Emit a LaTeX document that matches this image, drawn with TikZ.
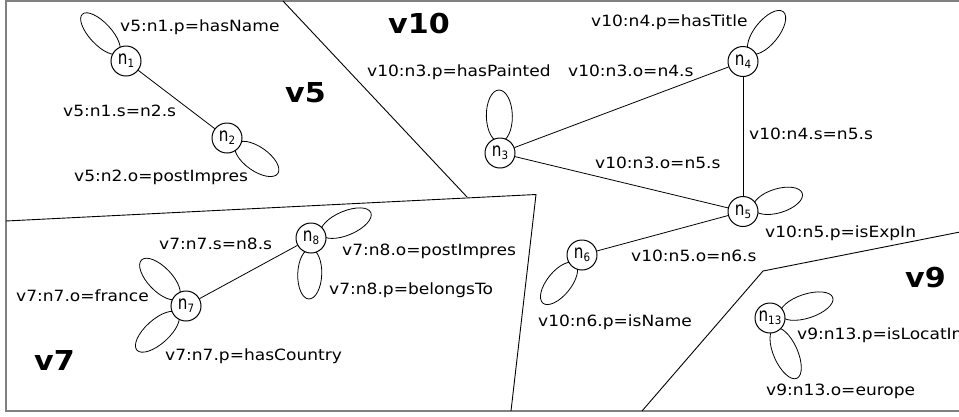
\documentclass[tikz,border=0pt]{standalone}
\usepackage{fontspec}
\setmainfont{DejaVu Sans}[FakeStretch=1.1]
\newfontfamily\nodefont{DejaVu Sans}[FakeStretch=0.8]
\newfontfamily\subfont{DejaVu Sans}[FakeStretch=0.9]
\pgfdeclarelayer{bg}
\pgfsetlayers{bg,main}
% [half width]{node}{angle}{length from node centre to tip}
\newcommand\petal[4][12]{%
  \draw[petalline] (#2.center) ++(#3:{(#4+11)/2}) ellipse [x radius={(#4-11)/2}, y radius=#1, rotate=#3];}
\newcommand\nd[1]{{\nodefont\fontsize{19}{20}\selectfont n}\raisebox{-3.3pt}{\subfont\fontsize{11.5}{12}\selectfont #1}}
\begin{document}
\begin{tikzpicture}[x=1pt,y=1pt,
  vnode/.style={circle, draw, fill=white, line width=1pt, minimum size=30pt, inner sep=1pt},
  edge/.style={line width=0.8pt},
  petalline/.style={line width=0.8pt},
  sep/.style={line width=0.9pt},
  frame/.style={line width=1.6pt, black!50},
  lbl/.style={anchor=base west, inner sep=0pt, font=\fontsize{15.5}{18}\selectfont},
  vlbl/.style={anchor=base west, inner sep=0pt, font=\fontsize{27.4}{30}\selectfont\bfseries}]
\useasboundingbox (0,0) rectangle (959,-416);
\clip (0,0) rectangle (959,-416);
% graph nodes
\node[vnode] (n1) at (126,-61) {\nd{1}};
\node[vnode] (n2) at (227,-138) {\nd{2}};
\node[vnode] (n3) at (500,-153) {\nd{3}};
\node[vnode] (n4) at (743,-61.5) {\nd{4}};
\node[vnode] (n5) at (743,-211.5) {\nd{5}};
\node[vnode] (n6) at (582,-255) {\nd{6}};
\node[vnode] (n7) at (186,-306) {\nd{7}};
\node[vnode] (n8) at (311,-238) {\nd{8}};
\node[vnode] (n13) at (770,-318) {\nd{13}};
\begin{pgfonlayer}{bg}
  % frame
  \coordinate (ftr) at (965,-1);
  \coordinate (ftl) at (6,-1);
  \coordinate (fbl) at (6,-411);
  \coordinate (fbr) at (965,-411);
  \draw[frame] (ftr) -- (ftl) -- (fbl) -- (fbr);
  % view separators
  \coordinate (a1) at (283,-1);
  \coordinate (a2) at (467,-197);
  \draw[sep] (a1) -- (a2);
  \coordinate (b1) at (6,-221);
  \coordinate (b2) at (536,-194.5);
  \coordinate (b3) at (511,-411);
  \draw[sep] (b1) -- (b2) -- (b3);
  \coordinate (c1) at (642,-411);
  \coordinate (c2) at (763,-271);
  \coordinate (c3) at (965,-231);
  \draw[sep] (c1) -- (c2) -- (c3);
  % loops
  \petal[11]{n1}{133}{64}
  \petal{n2}{-35}{62}
  \petal[13]{n3}{91}{63}
  \petal{n4}{51}{64}
  \petal{n5}{17}{62}
  \petal{n6}{231}{62}
  \petal{n7}{134}{64}
  \petal{n7}{222}{66}
  \petal{n8}{23}{65}
  \petal{n8}{-92}{61}
  \petal{n13}{18}{66}
  \petal{n13}{-66}{66}
\end{pgfonlayer}
% edges
\draw[edge] (n1) -- (n2);
\draw[edge] (n3) -- (n4);
\draw[edge] (n3) -- (n5);
\draw[edge] (n4) -- (n5);
\draw[edge] (n5) -- (n6);
\draw[edge] (n7) -- (n8);
% view names
\node[vlbl] (tv5) at (285,-102) {v5};
\node[vlbl] (tv10) at (388,-33) {v10};
\node[vlbl] (tv7) at (34,-370) {v7};
\node[vlbl] (tv9) at (905,-287) {v9};
% labels
\node[lbl] (l1) at (120,-31) {v5:n1.p=hasName};
\node[lbl] (l2) at (63,-116.7) {v5:n1.s=n2.s};
\node[lbl] (l3) at (74,-181) {v5:n2.o=postImpres};
\node[lbl] (l4) at (367,-76) {v10:n3.p=hasPainted};
\node[lbl] (l5) at (591,-26) {v10:n4.p=hasTitle};
\node[lbl] (l6) at (568,-76) {v10:n3.o=n4.s};
\node[lbl] (l7) at (749,-139) {v10:n4.s=n5.s};
\node[lbl] (l8) at (595,-168) {v10:n3.o=n5.s};
\node[lbl] (l9) at (765,-237.7) {v10:n5.p=isExpIn};
\node[lbl] (l10) at (631,-261.7) {v10:n5.o=n6.s};
\node[lbl] (l11) at (538,-326) {v10:n6.p=isName};
\node[lbl] (l12) at (797,-339) {v9:n13.p=isLocatIn};
\node[lbl] (l13) at (766,-395) {v9:n13.o=europe};
\node[lbl] (l14) at (159,-249) {v7:n7.s=n8.s};
\node[lbl] (l15) at (342,-255.7) {v7:n8.o=postImpres};
\node[lbl] (l16) at (329,-294) {v7:n8.p=belongsTo};
\node[lbl] (l17) at (16,-301) {v7:n7.o=france};
\node[lbl] (l18) at (165,-360.7) {v7:n7.p=hasCountry};
\end{tikzpicture}
\end{document}
